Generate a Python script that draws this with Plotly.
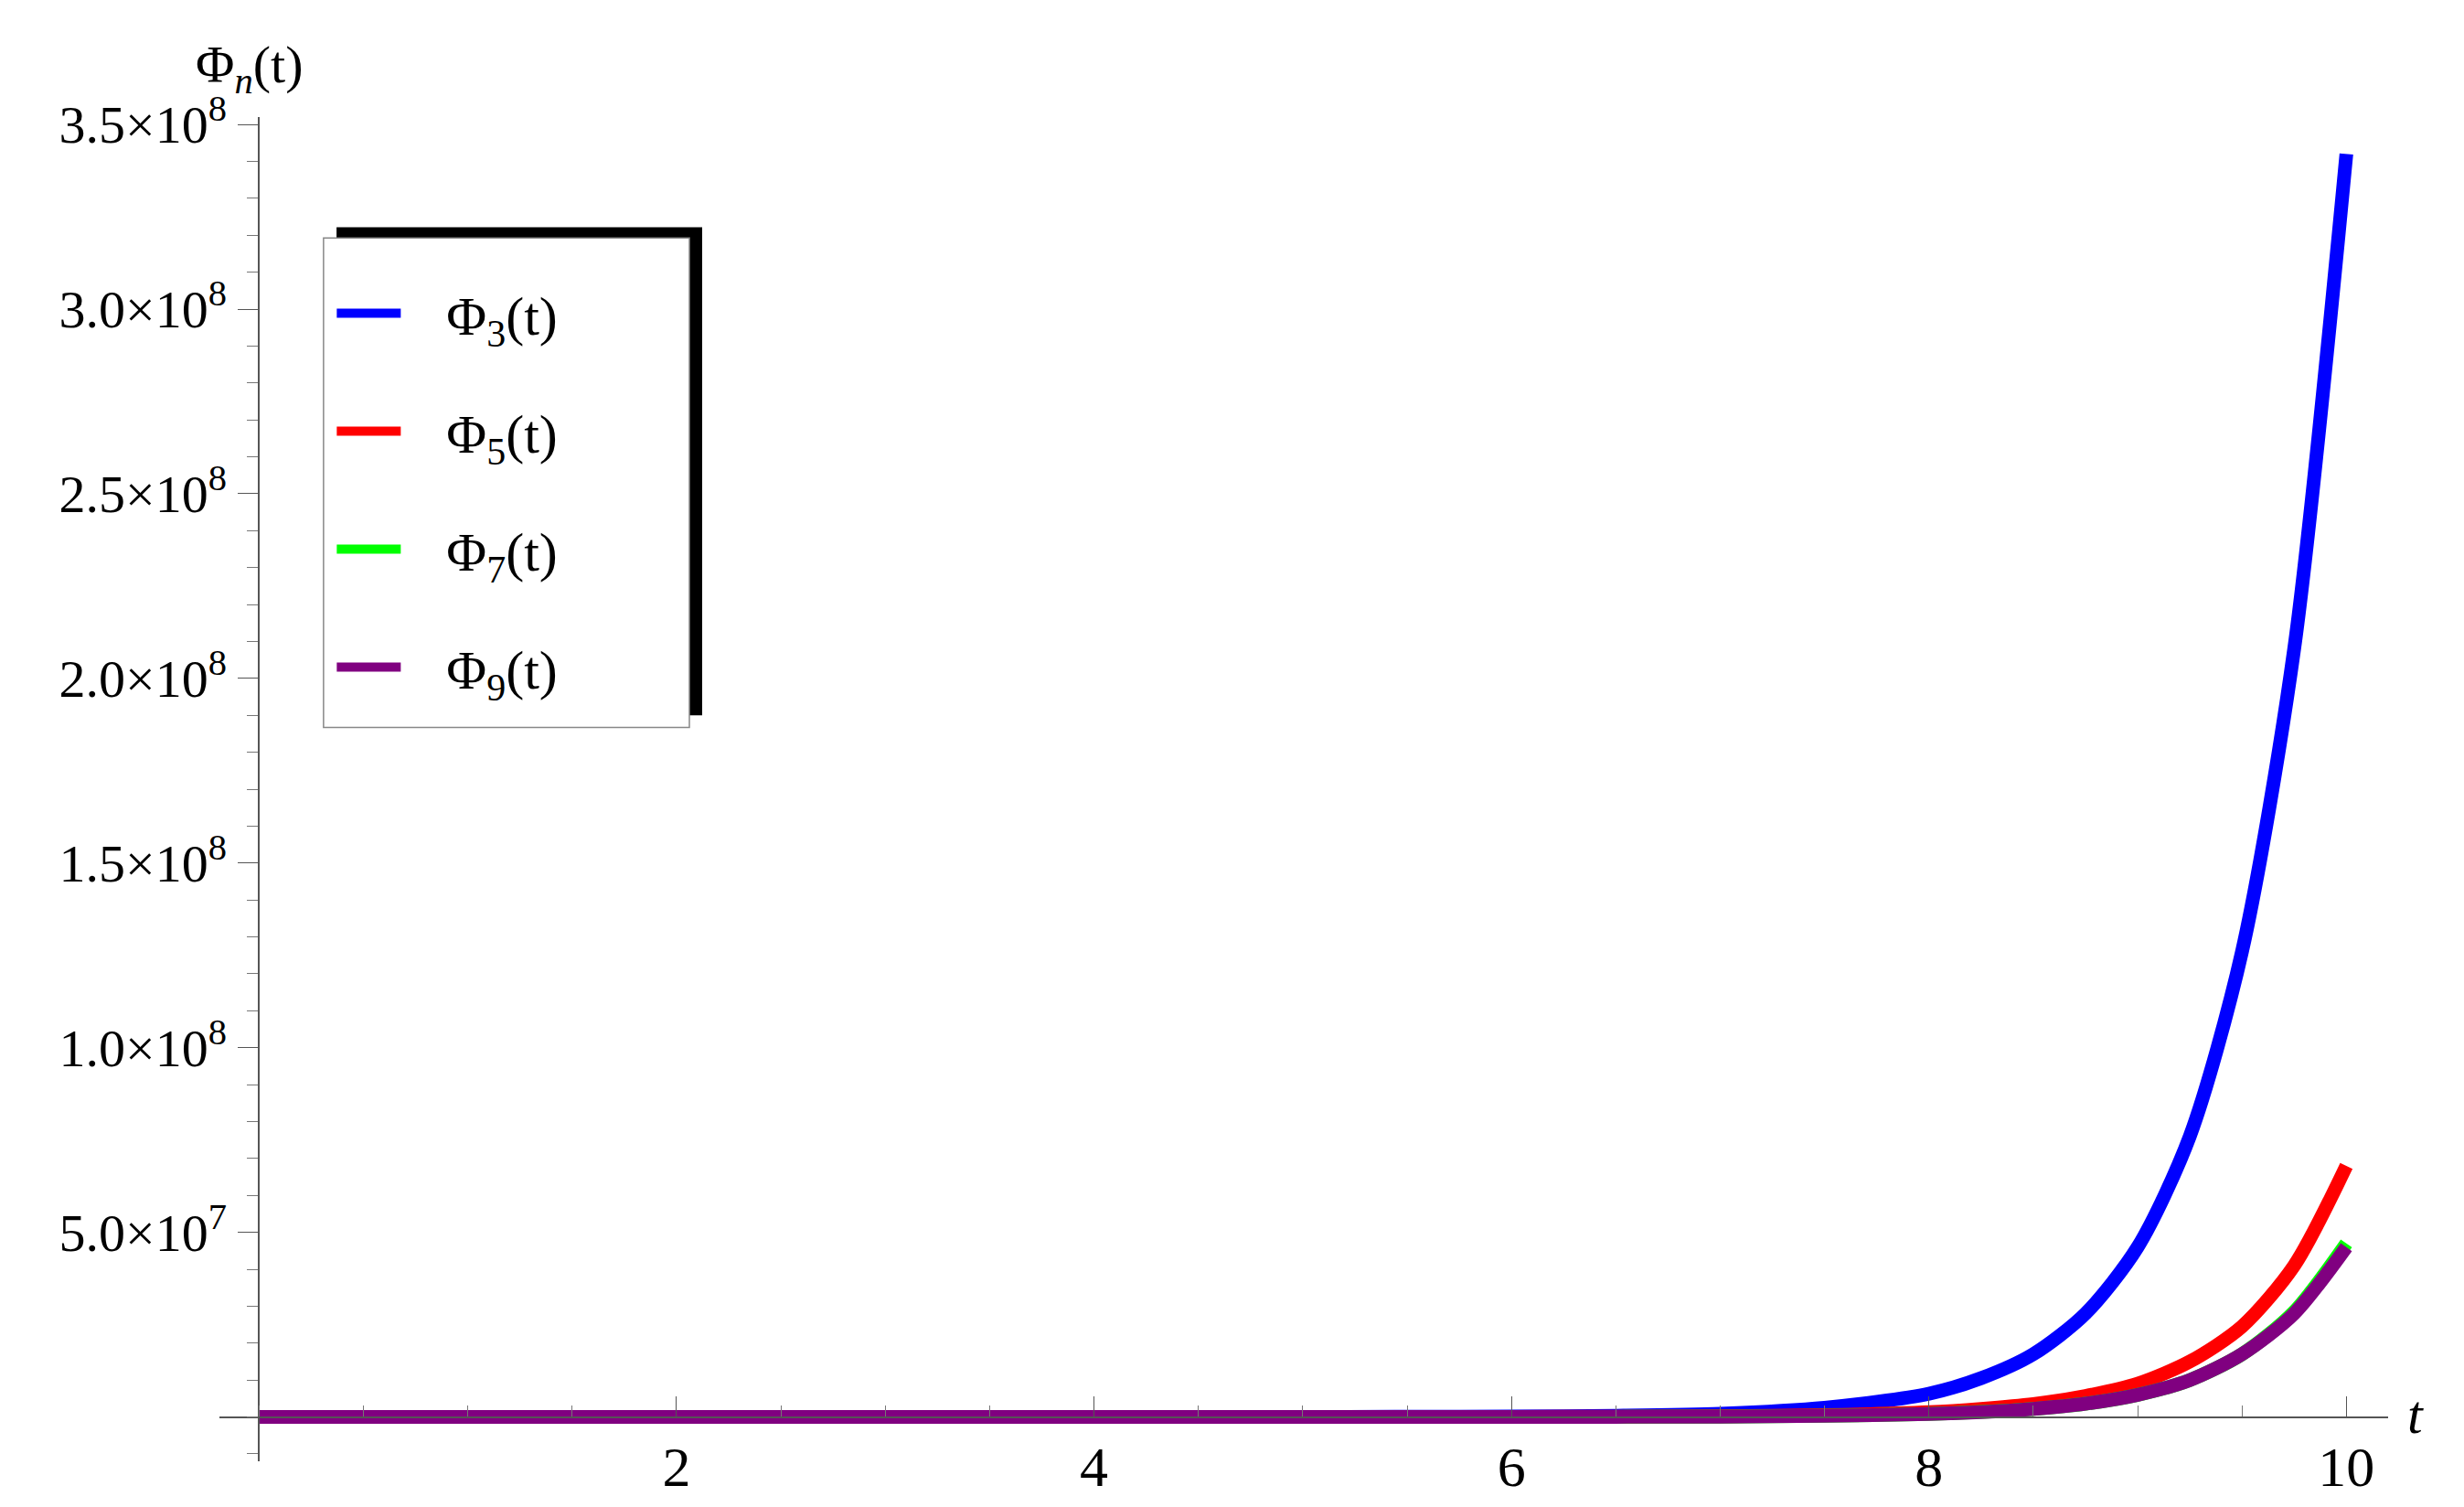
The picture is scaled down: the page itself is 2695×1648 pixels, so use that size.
import plotly.graph_objects as go

t = [0, 1, 2, 3, 4, 5, 5.5, 6, 6.5, 7, 7.5, 8, 8.25, 8.5, 8.75, 9, 9.25, 9.5, 9.75, 10]
phi3 = [0, 0, 0, 0, 0, 0.02e6, 0.05e6, 0.12e6, 0.35e6, 0.9e6, 2.5e6, 6.3e6, 1.05e7, 1.7e7, 2.8e7, 4.6e7, 7.6e7, 1.26e8, 2.08e8, 3.42e8]
phi5 = [0, 0, 0, 0, 0, 0, 0.01e6, 0.03e6, 0.08e6, 0.2e6, 0.5e6, 1.3e6, 2.2e6, 3.5e6, 5.7e6, 9.0e6, 1.5e7, 2.45e7, 4.1e7, 6.8e7]
phi7 = [0, 0, 0, 0, 0, 0, 0, 0.01e6, 0.04e6, 0.1e6, 0.3e6, 0.8e6, 1.35e6, 2.2e6, 3.6e6, 6.0e6, 1.0e7, 1.7e7, 2.85e7, 4.7e7]
phi9 = [0, 0, 0, 0, 0, 0, 0, 0.01e6, 0.04e6, 0.1e6, 0.3e6, 0.8e6, 1.3e6, 2.2e6, 3.6e6, 6.0e6, 1.0e7, 1.7e7, 2.8e7, 4.6e7]

series = [
    ("   Φ<sub>3</sub>(t)", phi3, "#0000FF"),
    ("   Φ<sub>5</sub>(t)", phi5, "#FF0000"),
    ("   Φ<sub>7</sub>(t)", phi7, "#00FF00"),
    ("   Φ<sub>9</sub>(t)", phi9, "#800080"),
]

y_ticks = [5e7, 1e8, 1.5e8, 2e8, 2.5e8, 3e8, 3.5e8]
y_labels = ["5.0×10<sup>7</sup>", "1.0×10<sup>8</sup>", "1.5×10<sup>8</sup>", "2.0×10<sup>8</sup>",
            "2.5×10<sup>8</sup>", "3.0×10<sup>8</sup>", "3.5×10<sup>8</sup>"]
x_ticks = [2, 4, 6, 8, 10]

FONT = "Liberation Serif"

fig = go.Figure()
for i, (name, ys, col) in enumerate(series):
    fig.add_trace(go.Scatter(x=t, y=ys, name=name, mode="lines", legendgroup=str(i),
                             line={"color": col, "width": 15, "shape": "spline", "smoothing": 0.8}))

# legend box with drop shadow
fig.add_shape(type="rect", xref="paper", yref="paper", x0=0.054, x1=0.2226, y0=0.555, y1=0.918,
              fillcolor="black", line={"width": 0}, layer="above")
fig.add_shape(type="rect", xref="paper", yref="paper", x0=0.048, x1=0.2167, y0=0.546, y1=0.91,
              fillcolor="white", line={"color": "#888888", "width": 1.5}, layer="above")

fig.add_annotation(text="Φ<sub><i>n</i></sub>(t)", xref="paper", yref="paper", x=-0.012, y=1.01,
                   xanchor="left", yanchor="bottom", showarrow=False, font={"size": 58, "family": FONT})
fig.add_annotation(text="<i>t</i>", xref="paper", yref="paper", x=1.008, y=0.035,
                   xanchor="left", yanchor="middle", showarrow=False, font={"size": 60, "family": FONT})

fig.update_layout(
    width=2695, height=1648,
    plot_bgcolor="white", paper_bgcolor="white",
    margin={"l": 232, "r": 91, "t": 120, "b": 58},
    font={"family": FONT, "size": 58, "color": "black"},
    legend={"x": 0.052, "y": 0.885, "xanchor": "left", "yanchor": "top", "bgcolor": "rgba(0,0,0,0)",
            "font": {"size": 60, "family": FONT}, "tracegroupgap": 48, "itemwidth": 70},
    xaxis={"range": [-0.19, 10.2], "tickvals": x_ticks, "showgrid": False, "zeroline": False,
           "showline": True, "linecolor": "#555", "linewidth": 2, "anchor": "free", "position": 0.0327,
           "ticks": "inside", "ticklen": 22, "tickcolor": "#555",
           "minor": {"dtick": 0.5, "ticks": "inside", "ticklen": 12, "tickcolor": "#777"},
           "tickfont": {"size": 62}},
    yaxis={"range": [-0.12e8, 3.52e8], "tickvals": y_ticks, "ticktext": y_labels, "showgrid": False,
           "zeroline": False, "showline": True, "linecolor": "#555", "linewidth": 2,
           "anchor": "free", "position": 0.018, "ticks": "outside", "ticklen": 22, "tickcolor": "#555",
           "minor": {"dtick": 1e7, "ticks": "outside", "ticklen": 12, "tickcolor": "#777"},
           "tickfont": {"size": 58}},
)

fig.write_html("out.html")
